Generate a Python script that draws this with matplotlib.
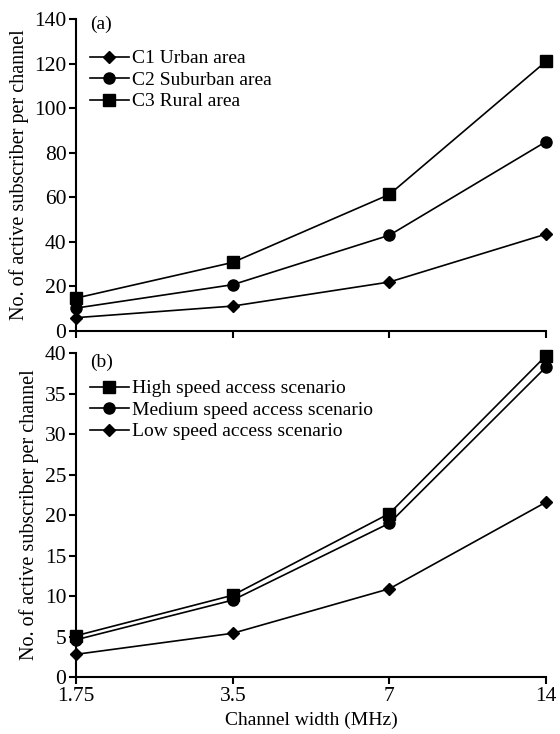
import matplotlib
matplotlib.use('Agg')
import matplotlib.pyplot as plt

plt.rcParams['font.family'] = ['Liberation Serif', 'DejaVu Serif']
plt.rcParams['font.size'] = 14

widths = ['1.75', '3.5', '7', '14']

# panel (a)
urban = [6, 11.2, 22, 43.5]
suburban = [10.3, 20.8, 43, 85]
rural = [14.8, 30.8, 61.3, 121]

# panel (b)
high_speed = [5.1, 10.1, 20.2, 39.7]
medium_speed = [4.6, 9.5, 19.0, 38.3]
low_speed = [2.8, 5.4, 10.9, 21.6]

xpos = list(range(len(widths)))

fig = plt.figure(figsize=(5.6, 7.34), dpi=100)
ax1 = fig.add_axes([0.136, 0.549, 0.839, 0.425])
ax2 = fig.add_axes([0.136, 0.0777, 0.839, 0.441])

lkw = dict(color='black', lw=1.2, clip_on=False)
ax1.plot(xpos, urban, marker='D', ms=6, label='C1 Urban area', **lkw)
ax1.plot(xpos, suburban, marker='o', ms=8, label='C2 Suburban area', **lkw)
ax1.plot(xpos, rural, marker='s', ms=8, label='C3 Rural area', **lkw)

ax2.plot(xpos, high_speed, marker='s', ms=8, label='High speed access scenario', **lkw)
ax2.plot(xpos, medium_speed, marker='o', ms=8, label='Medium speed access scenario', **lkw)
ax2.plot(xpos, low_speed, marker='D', ms=6, label='Low speed access scenario', **lkw)

ax1.set_ylim(0, 140)
ax1.set_yticks(range(0, 141, 20))
ax2.set_ylim(0, 40)
ax2.set_yticks(range(0, 41, 5))

for ax, ytop in ((ax1, 0.945), (ax2, 0.96)):
    ax.set_xlim(0, 3)
    ax.set_xticks(xpos)
    for s in ('top', 'right'):
        ax.spines[s].set_visible(False)
    for s in ('left', 'bottom'):
        ax.spines[s].set_linewidth(1.5)
    ax.tick_params(direction='out', width=1.5, length=5, labelsize=15.5, pad=2)
    ax.set_ylabel('No. of active subscriber per channel', fontsize=14.5, labelpad=4)
    ax.legend(loc='upper left', bbox_to_anchor=(0.0, ytop), frameon=False,
              fontsize=14, handlelength=2.0, handletextpad=0.15,
              labelspacing=0.2, borderaxespad=0.3)

ax1.set_xticklabels([])
ax2.set_xticklabels(widths)
ax2.set_xlabel('Channel width (MHz)', fontsize=14, labelpad=4)

ax1.text(0.03, 1.01, '(a)', transform=ax1.transAxes, fontsize=14, va='top')
ax2.text(0.03, 1.0, '(b)', transform=ax2.transAxes, fontsize=14, va='top')

fig.align_ylabels([ax1, ax2])
fig.savefig('out.png', dpi=100)
